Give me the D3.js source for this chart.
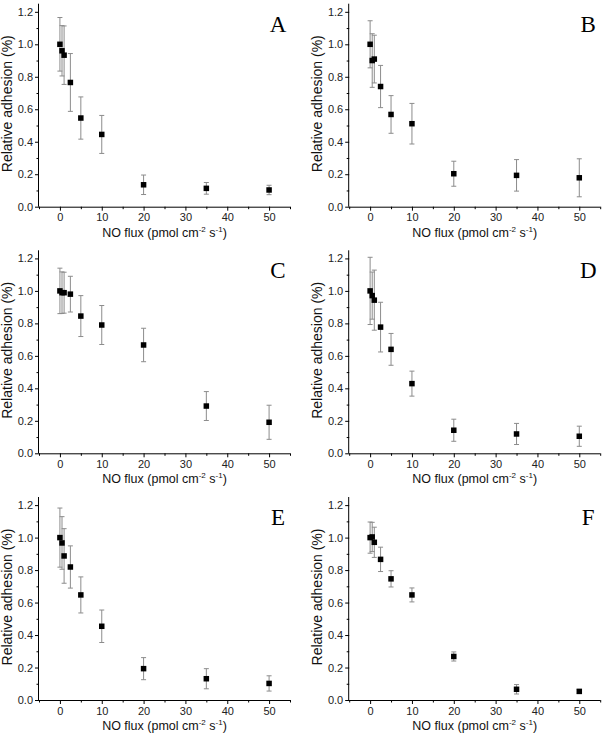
<!DOCTYPE html>
<html>
<head>
<meta charset="utf-8">
<script src="https://cdn.jsdelivr.net/npm/d3@7"></script>
<style>
  html, body { margin: 0; padding: 0; background: #fff; }
  svg { display: block; }
</style>
</head>
<body>
<svg id="chart" width="604" height="738"></svg>
<script>
// ---- data ----
const flux = [0, 0.5, 1, 2.5, 5, 10, 20, 35, 50];
const panelLabels = ["A", "B", "C", "D", "E", "F"];

const meanA = [1.0, 0.96, 0.933, 0.765, 0.546, 0.445, 0.135, 0.113, 0.103];
const errA  = [0.165, 0.155, 0.18, 0.178, 0.13, 0.117, 0.06, 0.036, 0.029];

const meanB = [1.0, 0.90, 0.909, 0.74, 0.568, 0.511, 0.203, 0.193, 0.178];
const errB  = [0.145, 0.165, 0.147, 0.13, 0.116, 0.125, 0.077, 0.097, 0.117];

const meanC = [1.0, 0.989, 0.989, 0.98, 0.845, 0.79, 0.667, 0.291, 0.191];
const errC  = [0.14, 0.128, 0.126, 0.11, 0.126, 0.12, 0.103, 0.089, 0.105];

const meanD = [1.0, 0.971, 0.943, 0.777, 0.64, 0.429, 0.142, 0.119, 0.105];
const errD  = [0.207, 0.145, 0.185, 0.153, 0.098, 0.077, 0.068, 0.065, 0.062];

const meanE = [1.0, 0.967, 0.887, 0.819, 0.647, 0.454, 0.193, 0.131, 0.102];
const errE  = [0.182, 0.162, 0.168, 0.13, 0.111, 0.1, 0.068, 0.062, 0.047];

const meanF = [1.0, 1.004, 0.971, 0.866, 0.746, 0.647, 0.268, 0.066, 0.053];
const errF  = [0.096, 0.09, 0.093, 0.075, 0.05, 0.043, 0.028, 0.029, 0.012];

const xTicks = [0, 10, 20, 30, 40, 50];
const xMinorTicks = [-5, 5, 15, 25, 35, 45, 55];
const yTicks = [0.0, 0.2, 0.4, 0.6, 0.8, 1.0, 1.2];
const yMinorTicks = [0.1, 0.3, 0.5, 0.7, 0.9, 1.1];
const xTitle = "NO flux (pmol cm";
const yTitle = "Relative adhesion (%)";

const means = [meanA, meanB, meanC, meanD, meanE, meanF];
const errs  = [errA, errB, errC, errD, errE, errF];

// ---- layout ----
const colLeft = [39, 349.2];
const plotW = 251;
const rowBottom = [206.7, 453.3, 700];
const unitH = 162.4;
const yMax = 1.25;
const SANS = "Arial, 'Liberation Sans', sans-serif";
const SERIF = "'Liberation Serif', 'Times New Roman', Times, serif";

const svg = d3.select("#chart");

panelLabels.forEach((lab, i) => {
  const col = i % 2, row = Math.floor(i / 2);
  const left = colLeft[col];
  const bottom = rowBottom[row];
  const top = bottom - unitH * yMax;

  const x = d3.scaleLinear().domain([-5, 55]).range([left, left + plotW]);
  const y = d3.scaleLinear().domain([0, yMax]).range([bottom, top]);

  const g = svg.append("g");

  // x axis
  const xAxis = d3.axisBottom(x).tickValues(xTicks).tickSize(4).tickPadding(3)
    .tickFormat(d3.format("d"));
  const gx = g.append("g").attr("transform", `translate(0,${bottom})`).call(xAxis);
  gx.select(".domain").attr("d", `M${left},0.5H${left + plotW}`).attr("stroke", "#000");
  gx.selectAll(".tick line").attr("stroke", "#000");
  gx.selectAll(".tick text").attr("font-size", 11).attr("fill", "#222")
    .style("font-family", SANS);
  g.append("g").attr("transform", `translate(0,${bottom})`)
    .call(d3.axisBottom(x).tickValues(xMinorTicks).tickSize(2.5).tickFormat(""))
    .call(s => s.select(".domain").remove())
    .selectAll(".tick line").attr("stroke", "#000");

  // y axis
  const yAxis = d3.axisLeft(y).tickValues(yTicks).tickSize(4).tickPadding(2)
    .tickFormat(d3.format(".1f"));
  const gy = g.append("g").attr("transform", `translate(${left},0)`).call(yAxis);
  gy.select(".domain").attr("d", `M-0.5,${bottom}V${top}`).attr("stroke", "#000");
  gy.selectAll(".tick line").attr("stroke", "#000");
  gy.selectAll(".tick text").attr("font-size", 11).attr("fill", "#222")
    .style("font-family", SANS);
  g.append("g").attr("transform", `translate(${left},0)`)
    .call(d3.axisLeft(y).tickValues(yMinorTicks).tickSize(2.5).tickFormat(""))
    .call(s => s.select(".domain").remove())
    .selectAll(".tick line").attr("stroke", "#000");

  // x title
  const xt = g.append("text")
    .attr("x", left + plotW / 2)
    .attr("y", bottom + 30)
    .attr("text-anchor", "middle")
    .attr("font-size", 12.5)
    .style("font-family", SANS)
    .attr("fill", "#111");
  xt.append("tspan").text(xTitle);
  xt.append("tspan").text("-2").attr("font-size", 8).attr("dy", -5);
  xt.append("tspan").text(" s").attr("dy", 5);
  xt.append("tspan").text("-1").attr("font-size", 8).attr("dy", -5);
  xt.append("tspan").text(")").attr("dy", 5);

  // y title
  g.append("text")
    .attr("transform", `translate(${left - 27},${bottom - 103}) rotate(-90)`)
    .attr("text-anchor", "middle")
    .attr("font-size", 14)
    .style("font-family", SANS)
    .attr("fill", "#111")
    .text(yTitle);

  // panel letter
  g.append("text")
    .attr("x", left + plotW - 12)
    .attr("y", y(1.2) + 20)
    .attr("text-anchor", "middle")
    .style("font-family", SERIF)
    .attr("font-size", 23)
    .attr("fill", "#000")
    .text(lab);

  const data = flux.map((f, k) => ({ f, m: means[i][k], e: errs[i][k] }));

  // error bars
  const eb = g.append("g").attr("stroke", "#8c8c8c").attr("stroke-width", 1);
  eb.selectAll("line.v").data(data).join("line").attr("class", "v")
    .attr("x1", d => x(d.f)).attr("x2", d => x(d.f))
    .attr("y1", d => y(d.m - d.e)).attr("y2", d => y(d.m + d.e));
  eb.selectAll("line.t").data(data).join("line").attr("class", "t")
    .attr("x1", d => x(d.f) - 2.5).attr("x2", d => x(d.f) + 2.5)
    .attr("y1", d => y(d.m + d.e)).attr("y2", d => y(d.m + d.e));
  eb.selectAll("line.b").data(data).join("line").attr("class", "b")
    .attr("x1", d => x(d.f) - 2.5).attr("x2", d => x(d.f) + 2.5)
    .attr("y1", d => y(d.m - d.e)).attr("y2", d => y(d.m - d.e));

  // markers
  const s = 5.5;
  g.append("g").selectAll("rect").data(data).join("rect")
    .attr("x", d => x(d.f) - s / 2).attr("y", d => y(d.m) - s / 2)
    .attr("width", s).attr("height", s).attr("fill", "#000");
});
</script>
</body>
</html>
